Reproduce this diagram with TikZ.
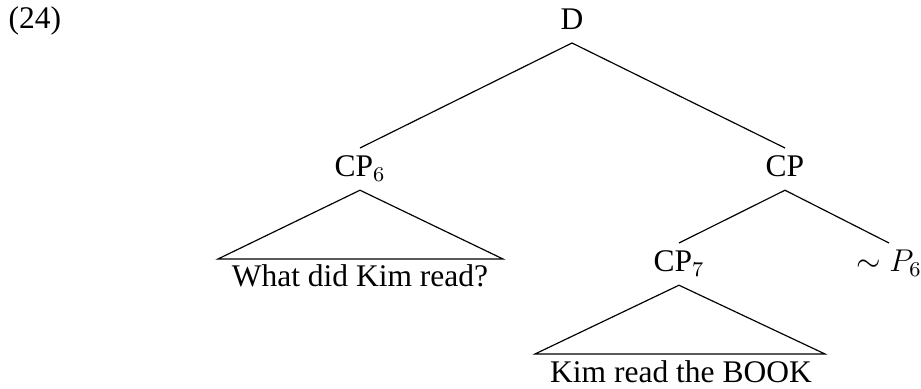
\documentclass[tikz,border=0pt]{standalone}
\usepackage{fontspec}
\setmainfont{Liberation Serif}
\begin{document}
\begin{tikzpicture}[x=0.381pt, y=-0.381pt,
  font=\fontsize{12}{14}\selectfont,
  line width=0.45pt,
  cat/.style={inner xsep=0pt, inner ysep=2.67pt, text height=8pt, text depth=2.3pt},
  leaf/.style={inner sep=0pt, anchor=base}]
\useasboundingbox (0,0) rectangle (921,389);

% example number
\node[anchor=base west, inner sep=0pt] (ex) at (8,29) {(24)};

% category labels
\node[cat, anchor=south] (D)   at (572,43)  {D};
\node[cat, anchor=north] (cp6) at (360,148) {CP$_6$};
\node[cat, anchor=north] (cp)  at (785,148) {CP};
\node[cat, anchor=north] (cp7) at (679,243) {CP$_7$};
\node[cat, anchor=north] (alt) at (889,243) {$\sim P_6$};

% terminal strings under roof triangles
\coordinate (t1l) at (218,259);
\coordinate (t1r) at (503,259);
\node[leaf] (s1) at (360,287) {What did Kim read?};
\coordinate (t2l) at (535,354);
\coordinate (t2r) at (825,354);
\node[leaf] (s2) at (681,383) {Kim read the BOOK};

% branches
\draw (D.south) -- (cp6.north);
\draw (D.south) -- (cp.north);
\draw (cp.south) -- (cp7.north);
\draw (cp.south) -- (alt.north);

% roofs
\draw (cp6.south) -- (t1l) -- (t1r) -- cycle;
\draw (cp7.south) -- (t2l) -- (t2r) -- cycle;
\end{tikzpicture}
\end{document}
